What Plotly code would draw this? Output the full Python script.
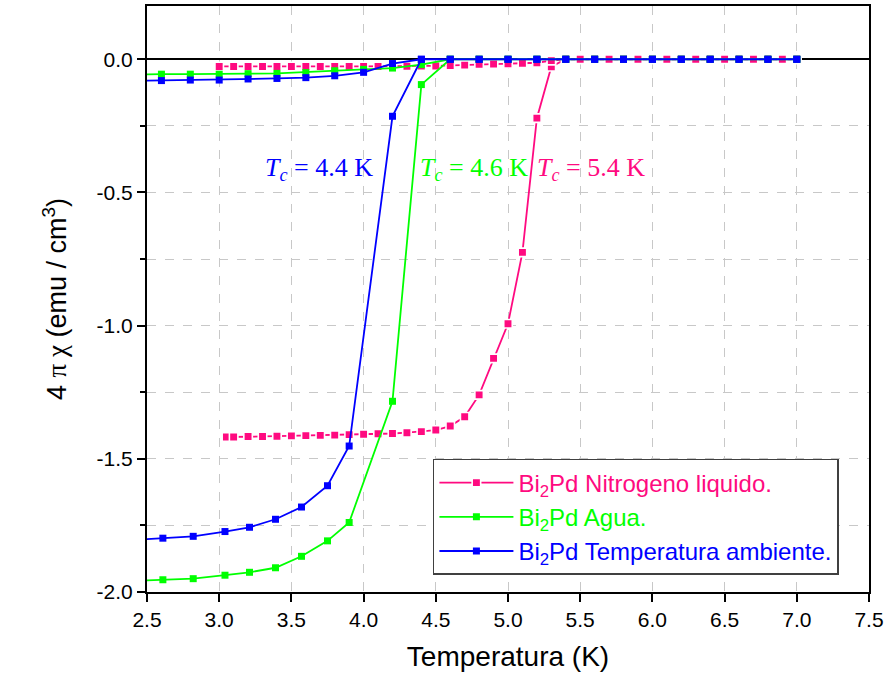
import plotly.graph_objects as go

# ---- Bi2Pd susceptibility data: zero-field-cooled (ZFC) warming, then field-cooled (FC) ----
# Nitrogeno liquido
n2_x_zfc = [3.05, 3.10, 3.20, 3.30, 3.40, 3.50, 3.60, 3.70, 3.80, 3.90, 4.00, 4.10, 4.20,
            4.30, 4.40, 4.50, 4.60, 4.70, 4.80, 4.90, 5.00, 5.10, 5.20, 5.30, 5.40, 5.50,
            5.60, 5.70, 5.80, 5.90, 6.00, 6.10, 6.20, 6.30, 6.40, 6.50, 6.60, 6.70, 6.80,
            6.90, 7.00]
n2_y_zfc = [-1.418, -1.418, -1.416, -1.416, -1.415, -1.414, -1.413, -1.412, -1.411, -1.409,
            -1.408, -1.406, -1.405, -1.402, -1.398, -1.392, -1.377, -1.342, -1.260, -1.123,
            -0.993, -0.725, -0.221, -0.028, 0.0, 0.0, 0.0, 0.0, 0.0, 0.0, 0.0, 0.0, 0.0, 0.0,
            0.0, 0.0, 0.0, 0.0, 0.0, 0.0, 0.0]
n2_x_fc = [7.00, 6.90, 6.80, 6.70, 6.60, 6.50, 6.40, 6.30, 6.20, 6.10, 6.00, 5.90, 5.80,
           5.70, 5.60, 5.50, 5.40, 5.30, 5.20, 5.10, 5.00, 4.90, 4.80, 4.70, 4.60, 4.50,
           4.40, 4.30, 4.20, 4.10, 4.00, 3.90, 3.80, 3.70, 3.60, 3.50, 3.40, 3.30, 3.20,
           3.10, 3.00]
n2_y_fc = [0.0, 0.0, 0.0, 0.0, 0.0, 0.0, 0.0, 0.0, 0.0, 0.0, 0.0, 0.0, 0.0, 0.0, 0.0, 0.0,
           0.0, -0.005, -0.013, -0.015, -0.017, -0.018, -0.019, -0.022, -0.024, -0.025,
           -0.025, -0.026, -0.026, -0.027, -0.027, -0.027, -0.027, -0.027, -0.027, -0.027,
           -0.027, -0.027, -0.027, -0.027, -0.027]

# Agua
ag_x_zfc = [2.40, 2.61, 2.82, 3.04, 3.21, 3.39, 3.57, 3.75, 3.90, 4.20, 4.40, 4.60, 4.80,
            5.00, 5.20, 5.40, 5.60, 5.80, 6.00, 6.20, 6.40, 6.60, 6.80, 7.00]
ag_y_zfc = [-1.958, -1.954, -1.950, -1.937, -1.926, -1.909, -1.866, -1.808, -1.739, -1.284,
            -0.095, 0.0, 0.0, 0.0, 0.0, 0.0, 0.0, 0.0, 0.0, 0.0, 0.0, 0.0, 0.0, 0.0]
ag_x_fc = [7.00, 6.80, 6.60, 6.40, 6.20, 6.00, 5.80, 5.60, 5.40, 5.20, 5.00, 4.80, 4.60,
           4.40, 4.20, 4.00, 3.80, 3.60, 3.40, 3.20, 3.00, 2.80, 2.60, 2.40]
ag_y_fc = [0.0, 0.0, 0.0, 0.0, 0.0, 0.0, 0.0, 0.0, 0.0, 0.0, 0.0, 0.0, 0.0, -0.020, -0.033,
           -0.038, -0.043, -0.050, -0.053, -0.054, -0.056, -0.056, -0.056, -0.057]

# Temperatura ambiente
ta_x_zfc = [2.40, 2.61, 2.82, 3.04, 3.21, 3.39, 3.57, 3.75, 3.90, 4.20, 4.40, 4.60, 4.80,
            5.00, 5.20, 5.40, 5.60, 5.80, 6.00, 6.20, 6.40, 6.60, 6.80, 7.00]
ta_y_zfc = [-1.805, -1.798, -1.791, -1.773, -1.757, -1.727, -1.681, -1.601, -1.452, -0.214,
            0.0, 0.0, 0.0, 0.0, 0.0, 0.0, 0.0, 0.0, 0.0, 0.0, 0.0, 0.0, 0.0, 0.0]
ta_x_fc = [7.00, 6.80, 6.60, 6.40, 6.20, 6.00, 5.80, 5.60, 5.40, 5.20, 5.00, 4.80, 4.60,
           4.40, 4.20, 4.00, 3.80, 3.60, 3.40, 3.20, 3.00, 2.80, 2.60, 2.40]
ta_y_fc = [0.0, 0.0, 0.0, 0.0, 0.0, 0.0, 0.0, 0.0, 0.0, 0.0, 0.0, 0.0, 0.0, 0.0, -0.016,
           -0.049, -0.062, -0.069, -0.072, -0.074, -0.078, -0.078, -0.080, -0.081]

# Critical temperatures
tc_values = [4.4, 4.6, 5.4]

# Axis ticks (plain hyphen for negatives)
x_ticks = [2.5, 3.0, 3.5, 4.0, 4.5, 5.0, 5.5, 6.0, 6.5, 7.0, 7.5]
y_ticks = [0.0, -0.5, -1.0, -1.5, -2.0]
y_tick_text = ["0.0", "-0.5", "-1.0", "-1.5", "-2.0"]

PINK, GREEN, BLUE = "#ff0a80", "#00ff00", "#0000ff"
SANS = "Liberation Sans"
SERIF = "Liberation Serif"

fig = go.Figure()


def add_series(xz, yz, xf, yf, color, label, outline=None):
    marker = dict(symbol="square", size=7, color=color)
    if outline:
        marker.update(size=8.5, line=dict(color=outline, width=1.6))
    fig.add_trace(go.Scatter(
        x=xz + xf, y=yz + yf, mode="lines+markers",
        line=dict(color=color, width=1.8),
        marker=marker,
        name=f"<span style='color:{color}'>{label}</span>",
    ))


add_series(n2_x_zfc, n2_y_zfc, n2_x_fc, n2_y_fc, PINK,
           "Bi<sub>2</sub>Pd Nitrogeno liquido.", outline="white")
add_series(ag_x_zfc, ag_y_zfc, ag_x_fc, ag_y_fc, GREEN, "Bi<sub>2</sub>Pd Agua.")
add_series(ta_x_zfc, ta_y_zfc, ta_x_fc, ta_y_fc, BLUE,
           "Bi<sub>2</sub>Pd Temperatura ambiente.")

# Tc labels
tc_pos = [(3.325, BLUE), (4.40, GREEN), (5.21, PINK)]
for tc, (xa, col) in zip(tc_values, tc_pos):
    fig.add_annotation(
        x=xa, y=-0.448, xref="x", yref="y", xanchor="left", yanchor="bottom",
        text=f"<i>T</i><sub><i>c</i></sub> = {tc} K", showarrow=False,
        font=dict(family=SERIF, size=26, color=col),
        xshift=-3, yshift=-8,
    )

grid = dict(showgrid=True, gridcolor="#c8c8c8", gridwidth=1, griddash="dash")

fig.update_xaxes(
    range=[2.5, 7.5], tickvals=x_ticks, ticktext=[f"{v:.1f}" for v in x_ticks],
    ticks="outside", ticklen=8, tickwidth=1.5, tickcolor="black",
    showline=True, linecolor="black", linewidth=2, mirror=True,
    zeroline=False,
    tickfont=dict(family=SANS, size=21, color="black"),
    title=dict(text="Temperatura (K)", font=dict(family=SANS, size=28, color="black"),
               standoff=16),
    **grid,
)
fig.update_yaxes(
    range=[-2.0, 0.2], tickvals=y_ticks, ticktext=y_tick_text,
    ticks="outside", ticklen=8, tickwidth=1.5, tickcolor="black",
    showline=True, linecolor="black", linewidth=2, mirror=True,
    zeroline=True, zerolinecolor="black", zerolinewidth=2,
    tickfont=dict(family=SANS, size=21, color="black"),
    minor=dict(dtick=0.25, tick0=0, ticks="outside", ticklen=5, tickwidth=1.5,
               tickcolor="black", showgrid=True, gridcolor="#c8c8c8", gridwidth=1,
               griddash="dash"),
    title=dict(text=f"4 <span style='font-family:{SERIF}'>π χ</span> (emu / cm<sup>3</sup>)",
               font=dict(family=SANS, size=27, color="black"), standoff=22),
    **grid,
)

fig.update_layout(
    width=888, height=683,
    margin=dict(l=147, r=19, t=4, b=91),
    paper_bgcolor="white", plot_bgcolor="white",
    showlegend=True,
    legend=dict(
        x=0.396, y=0.227, xanchor="left", yanchor="top",
        bgcolor="white", bordercolor="#404040", borderwidth=1.5,
        font=dict(family=SANS, size=24, color="black"),
        itemwidth=74, tracegroupgap=5,
    ),
)

fig.write_html("out.html")
